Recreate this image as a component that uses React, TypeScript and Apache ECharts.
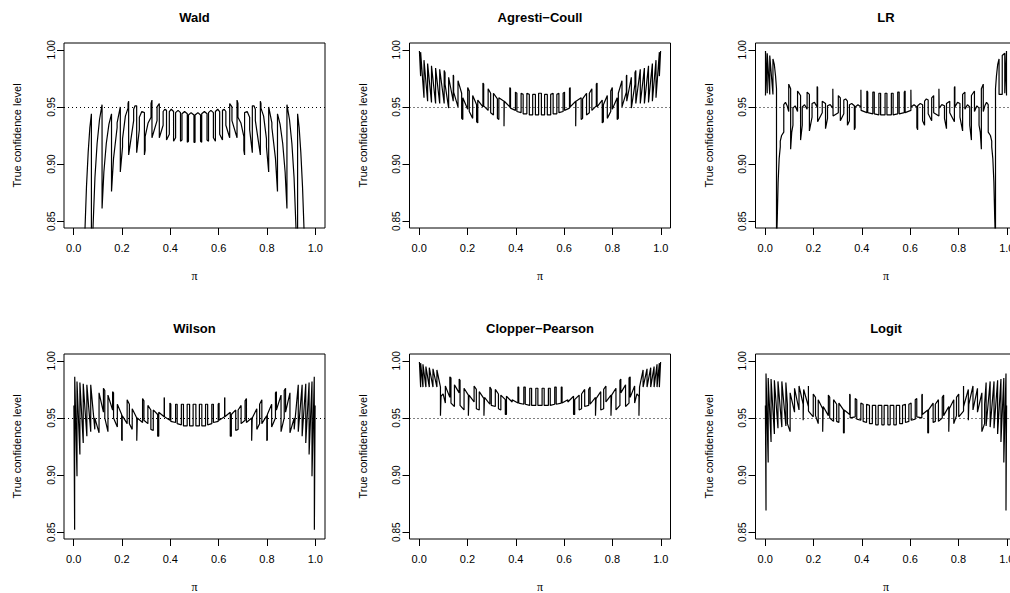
import { useEffect, useRef } from "react";
import * as echarts from "echarts";

// ---------- data ----------
const panelTitles = ["Wald", "Agresti\u2212Coull", "LR", "Wilson", "Clopper\u2212Pearson", "Logit"];
const xTicks = [0, 0.2, 0.4, 0.6, 0.8, 1.0];
const yTicks = [0.85, 0.9, 0.95, 1.0];
const nominalLevel = 0.95;
const xTitle = "\u03c0";
const yTitle = "True confidence level";

const waldCoverage = [
[0.040,0.800],[0.047,0.844],[0.053,0.880],[0.060,0.910],[0.067,0.932],[0.0734,0.944],
[0.0734,0.790],[0.080,0.844],[0.088,0.888],[0.097,0.918],[0.107,0.939],[0.1175,0.952],
[0.1175,0.861],[0.125,0.893],[0.135,0.918],[0.146,0.935],[0.1566,0.944],
[0.1566,0.876],[0.165,0.905],[0.1798,0.932],[0.1798,0.936],[0.193,0.950],
[0.193,0.893],[0.2022,0.915],[0.2022,0.922],[0.214,0.942],[0.225,0.949],[0.225,0.953],[0.2275,0.955],
[0.2275,0.908],[0.2482,0.938],[0.2482,0.948],[0.254,0.951],[0.2607,0.951],
[0.2607,0.910],[0.2718,0.930],[0.2718,0.941],[0.282,0.946],[0.2928,0.945],
[0.2928,0.908],[0.2958,0.912],[0.2958,0.924],[0.308,0.936],[0.3202,0.941],[0.3202,0.953],[0.324,0.956],
[0.324,0.923],[0.345,0.938],[0.345,0.950],[0.3544,0.953],
[0.3544,0.923],[0.3702,0.934],[0.3702,0.946],[0.377,0.948],[0.3842,0.947],
[0.3842,0.921],[0.3958,0.926],[0.3958,0.946],[0.404,0.948],[0.4134,0.946],
[0.4134,0.920],[0.4218,0.923],[0.4218,0.945],[0.432,0.947],[0.442,0.945],
[0.442,0.920],[0.4482,0.921],[0.4482,0.944],[0.459,0.946],[0.4702,0.944],
[0.4702,0.919],[0.475,0.920],[0.475,0.943],[0.486,0.945],[0.4978,0.943],
[0.4978,0.919],
[0.5022,0.919],[0.5022,0.943],[0.514,0.945],[0.525,0.943],[0.525,0.920],[0.5298,0.919],
[0.5298,0.944],[0.541,0.946],[0.5518,0.944],[0.5518,0.921],[0.558,0.920],
[0.558,0.945],[0.568,0.947],[0.5782,0.945],[0.5782,0.923],[0.5866,0.920],
[0.5866,0.946],[0.596,0.948],[0.6042,0.946],[0.6042,0.926],[0.6158,0.921],
[0.6158,0.947],[0.623,0.948],[0.6298,0.946],[0.6298,0.934],[0.6456,0.923],
[0.6456,0.953],[0.655,0.950],[0.655,0.938],[0.676,0.923],
[0.676,0.956],[0.6798,0.953],[0.6798,0.941],[0.692,0.936],[0.7042,0.924],[0.7042,0.912],[0.7072,0.908],
[0.7072,0.945],[0.718,0.946],[0.7282,0.941],[0.7282,0.930],[0.7393,0.910],
[0.7393,0.951],[0.746,0.951],[0.7518,0.948],[0.7518,0.938],[0.7725,0.908],
[0.7725,0.955],[0.775,0.953],[0.775,0.949],[0.786,0.942],[0.7978,0.922],[0.7978,0.915],[0.807,0.893],
[0.807,0.950],[0.8202,0.936],[0.8202,0.932],[0.835,0.905],[0.8434,0.876],
[0.8434,0.944],[0.854,0.935],[0.865,0.918],[0.875,0.893],[0.8825,0.861],
[0.8825,0.952],[0.893,0.939],[0.903,0.918],[0.912,0.888],[0.920,0.844],[0.9266,0.790],
[0.9266,0.944],[0.933,0.932],[0.940,0.910],[0.947,0.880],[0.953,0.844],[0.960,0.800]
];

const agrestiCoullCoverage = [
[0.001,0.999],[0.006,0.977],[0.006,0.998],[0.020,0.958],[0.020,0.991],[0.035,0.955],[0.035,0.988],[0.051,0.954],[0.051,0.986],[0.068,0.953],[0.068,0.984],[0.085,0.953],[0.085,0.983],[0.1035,0.953],[0.1035,0.982],[0.107,0.980],[0.107,0.970],[0.122,0.949],[0.122,0.976],[0.141,0.955],[0.141,0.978],[0.1426,0.977],[0.1426,0.963],[0.1607,0.950],[0.1607,0.973],[0.1758,0.962],[0.1758,0.940],[0.1806,0.939],[0.1806,0.958],[0.2008,0.948],[0.2008,0.967],[0.2073,0.964],[0.2073,0.946],[0.2215,0.940],[0.2215,0.960],[0.2378,0.952],[0.2378,0.937],[0.2425,0.936],[0.2425,0.956],[0.2638,0.950],[0.2638,0.971],[0.267,0.970],[0.267,0.951],[0.2854,0.947],[0.2854,0.966],[0.2958,0.962],[0.2958,0.945],[0.3074,0.943],[0.3074,0.962],[0.3237,0.957],[0.3237,0.940],[0.3297,0.939],[0.3297,0.958],[0.3511,0.955],[0.3511,0.933],[0.3523,0.933],[0.3523,0.955],[0.3751,0.950],[0.3751,0.967],[0.378,0.966],[0.378,0.949],[0.3984,0.947],[0.3984,0.963],[0.4043,0.962],[0.4043,0.946],[0.4218,0.945],[0.4218,0.962],[0.4303,0.961],[0.4303,0.944],[0.4456,0.944],[0.4456,0.962],[0.4558,0.961],[0.4558,0.943],[0.4697,0.943],[0.4697,0.961],[0.481,0.961],[0.481,0.943],[0.4943,0.943],[0.4943,0.962],
[0.5057,0.962],[0.5057,0.943],[0.519,0.943],[0.519,0.961],[0.5303,0.961],[0.5303,0.943],[0.5442,0.943],[0.5442,0.961],[0.5544,0.962],[0.5544,0.944],[0.5697,0.944],[0.5697,0.961],[0.5782,0.962],[0.5782,0.945],[0.5957,0.946],[0.5957,0.962],[0.6016,0.963],[0.6016,0.947],[0.622,0.949],[0.622,0.966],[0.6249,0.967],[0.6249,0.950],[0.6477,0.955],[0.6477,0.933],[0.6489,0.933],[0.6489,0.955],[0.6703,0.958],[0.6703,0.939],[0.6763,0.940],[0.6763,0.957],[0.6926,0.962],[0.6926,0.943],[0.7042,0.945],[0.7042,0.962],[0.7146,0.966],[0.7146,0.947],[0.733,0.951],[0.733,0.970],[0.7362,0.971],[0.7362,0.950],[0.7575,0.956],[0.7575,0.936],[0.7622,0.937],[0.7622,0.952],[0.7785,0.960],[0.7785,0.940],[0.7927,0.946],[0.7927,0.964],[0.7992,0.967],[0.7992,0.948],[0.8194,0.958],[0.8194,0.939],[0.8242,0.940],[0.8242,0.962],[0.8393,0.973],[0.8393,0.950],[0.8574,0.963],[0.8574,0.977],[0.859,0.978],[0.859,0.955],[0.878,0.976],[0.878,0.949],[0.893,0.970],[0.893,0.980],[0.8965,0.982],[0.8965,0.953],[0.915,0.983],[0.915,0.953],[0.932,0.984],[0.932,0.953],[0.949,0.986],[0.949,0.954],[0.965,0.988],[0.965,0.955],[0.980,0.991],[0.980,0.958],[0.994,0.998],[0.994,0.977],[0.999,0.999]
];

const likelihoodRatioCoverage = [
[0.001,0.961],[0.0014,0.960],[0.0014,0.999],[0.0085,0.962],[0.0085,0.997],[0.019,0.961],[0.019,0.995],[0.0322,0.961],[0.0322,0.992],[0.038,0.987],[0.043,0.977],[0.0469,0.966],[0.0469,0.830],[0.050,0.852],[0.0536,0.884],[0.058,0.905],[0.0625,0.915],[0.0625,0.920],[0.068,0.925],[0.077,0.928],[0.077,0.952],[0.084,0.954],[0.091,0.951],[0.0975,0.946],[0.0975,0.970],[0.1054,0.966],[0.1054,0.913],[0.110,0.928],[0.115,0.934],[0.115,0.949],[0.124,0.951],[0.134,0.946],[0.134,0.964],[0.1465,0.960],[0.1465,0.921],[0.1535,0.934],[0.1535,0.950],[0.163,0.952],[0.1735,0.948],[0.1735,0.963],[0.183,0.961],[0.183,0.929],[0.194,0.941],[0.194,0.953],[0.204,0.954],[0.215,0.950],[0.215,0.968],[0.217,0.967],[0.217,0.937],[0.2362,0.945],[0.2362,0.955],[0.2497,0.953],[0.2497,0.931],[0.258,0.940],[0.258,0.951],[0.269,0.952],[0.280,0.949],[0.280,0.966],[0.281,0.966],[0.281,0.942],[0.3027,0.945],[0.3027,0.960],[0.311,0.958],[0.311,0.938],[0.3254,0.944],[0.3254,0.956],[0.333,0.957],[0.3404,0.955],[0.3404,0.934],[0.3487,0.938],[0.3487,0.952],[0.358,0.953],[0.369,0.951],[0.369,0.930],[0.3723,0.932],[0.3723,0.950],[0.384,0.952],[0.3962,0.950],[0.3962,0.965],[0.397,0.965],[0.397,0.947],[0.4208,0.945],[0.4208,0.964],[0.4244,0.963],[0.4244,0.945],[0.4455,0.944],[0.4455,0.963],[0.4515,0.963],[0.4515,0.944],[0.4705,0.943],[0.4705,0.962],[0.4778,0.962],[0.4778,0.943],[0.4961,0.943],[0.4961,0.962],
[0.5039,0.962],[0.5039,0.943],[0.5222,0.943],[0.5222,0.962],[0.5295,0.962],[0.5295,0.943],[0.5485,0.944],[0.5485,0.963],[0.5545,0.963],[0.5545,0.944],[0.5756,0.945],[0.5756,0.963],[0.5792,0.964],[0.5792,0.945],[0.603,0.947],[0.603,0.965],[0.6038,0.965],[0.6038,0.950],[0.616,0.952],[0.6277,0.950],[0.6277,0.932],[0.631,0.930],[0.631,0.951],[0.642,0.953],[0.6513,0.952],[0.6513,0.938],[0.6596,0.934],[0.6596,0.955],[0.667,0.957],[0.6746,0.956],[0.6746,0.944],[0.689,0.938],[0.689,0.958],[0.6973,0.960],[0.6973,0.945],[0.719,0.942],[0.719,0.966],[0.720,0.966],[0.720,0.949],[0.731,0.952],[0.742,0.951],[0.742,0.940],[0.7503,0.931],[0.7503,0.953],[0.7638,0.955],[0.7638,0.945],[0.783,0.937],[0.783,0.967],[0.785,0.968],[0.785,0.950],[0.796,0.954],[0.806,0.953],[0.806,0.941],[0.817,0.929],[0.817,0.961],[0.8265,0.963],[0.8265,0.948],[0.837,0.952],[0.8465,0.950],[0.8465,0.934],[0.8535,0.921],[0.8535,0.960],[0.866,0.964],[0.866,0.946],[0.876,0.951],[0.885,0.949],[0.885,0.934],[0.890,0.928],[0.8946,0.913],[0.8946,0.966],[0.9025,0.970],[0.9025,0.946],[0.909,0.951],[0.916,0.954],[0.923,0.952],[0.923,0.928],[0.932,0.925],[0.9375,0.920],[0.9375,0.915],[0.942,0.905],[0.9464,0.884],[0.950,0.852],[0.9531,0.830],[0.9531,0.966],[0.957,0.977],[0.962,0.987],[0.9678,0.992],[0.9678,0.961],[0.981,0.961],[0.981,0.995],[0.9915,0.997],[0.9915,0.962],[0.9986,0.999],[0.9986,0.960],[0.999,0.961]
];

const wilsonCoverage = [
[0.001,0.961],[0.004,0.852],[0.0044,0.986],[0.0138,0.899],[0.0138,0.982],[0.0258,0.918],[0.0258,0.981],[0.0396,0.928],[0.0396,0.980],[0.0546,0.934],[0.0546,0.979],[0.0706,0.938],[0.0706,0.979],[0.0875,0.940],[0.0875,0.950],[0.105,0.937],[0.105,0.972],[0.1232,0.955],[0.1232,0.976],[0.1288,0.974],[0.1288,0.950],[0.1419,0.938],[0.1419,0.970],[0.1611,0.957],[0.1611,0.973],[0.165,0.972],[0.165,0.950],[0.1807,0.942],[0.1807,0.962],[0.1986,0.953],[0.1986,0.931],[0.2008,0.930],[0.2008,0.952],[0.2213,0.945],[0.2213,0.966],[0.2305,0.962],[0.2305,0.945],[0.2422,0.940],[0.2422,0.958],[0.2611,0.950],[0.2611,0.930],[0.2635,0.930],[0.2635,0.950],[0.2851,0.946],[0.2851,0.967],[0.2907,0.965],[0.2907,0.948],[0.3071,0.945],[0.3071,0.961],[0.3195,0.957],[0.3195,0.940],[0.3294,0.939],[0.3294,0.957],[0.3476,0.953],[0.3476,0.934],[0.352,0.934],[0.352,0.955],[0.3745,0.951],[0.3745,0.968],[0.3755,0.967],[0.3755,0.951],[0.3982,0.948],[0.3982,0.963],[0.402,0.962],[0.402,0.947],[0.4217,0.946],[0.4217,0.962],[0.4284,0.962],[0.4284,0.945],[0.4456,0.944],[0.4456,0.962],[0.4543,0.962],[0.4543,0.943],[0.4697,0.943],[0.4697,0.962],[0.4798,0.962],[0.4798,0.943],[0.4943,0.943],[0.4943,0.962],
[0.5057,0.962],[0.5057,0.943],[0.5202,0.943],[0.5202,0.962],[0.5303,0.962],[0.5303,0.943],[0.5457,0.943],[0.5457,0.962],[0.5544,0.962],[0.5544,0.944],[0.5716,0.945],[0.5716,0.962],[0.5783,0.962],[0.5783,0.946],[0.598,0.947],[0.598,0.962],[0.6018,0.963],[0.6018,0.948],[0.6245,0.951],[0.6245,0.967],[0.6255,0.968],[0.6255,0.951],[0.648,0.955],[0.648,0.934],[0.6524,0.934],[0.6524,0.953],[0.6706,0.957],[0.6706,0.939],[0.6805,0.940],[0.6805,0.957],[0.6929,0.961],[0.6929,0.945],[0.7093,0.948],[0.7093,0.965],[0.7149,0.967],[0.7149,0.946],[0.7365,0.950],[0.7365,0.930],[0.7389,0.930],[0.7389,0.950],[0.7578,0.958],[0.7578,0.940],[0.7695,0.945],[0.7695,0.962],[0.7787,0.966],[0.7787,0.945],[0.7992,0.952],[0.7992,0.930],[0.8014,0.931],[0.8014,0.953],[0.8193,0.962],[0.8193,0.942],[0.835,0.950],[0.835,0.972],[0.8389,0.973],[0.8389,0.957],[0.8581,0.970],[0.8581,0.938],[0.8712,0.950],[0.8712,0.974],[0.8768,0.976],[0.8768,0.955],[0.895,0.972],[0.895,0.937],[0.9125,0.950],[0.9125,0.940],[0.9294,0.979],[0.9294,0.938],[0.9454,0.979],[0.9454,0.934],[0.9604,0.980],[0.9604,0.928],[0.9742,0.981],[0.9742,0.918],[0.9862,0.982],[0.9862,0.899],[0.9956,0.986],[0.996,0.852],[0.999,0.961]
];

const clopperPearsonCoverage = [
[0.001,0.999],[0.0061,0.977],[0.0061,0.998],[0.0157,0.977],[0.0157,0.997],[0.0279,0.977],[0.0279,0.995],[0.0419,0.977],[0.0419,0.994],[0.0571,0.977],[0.0571,0.993],[0.0734,0.977],[0.0734,0.992],[0.0881,0.977],[0.0881,0.952],[0.0905,0.952],[0.0905,0.969],[0.099,0.971],[0.1084,0.963],[0.1084,0.978],[0.1269,0.968],[0.1269,0.986],[0.1316,0.985],[0.1316,0.963],[0.146,0.960],[0.146,0.979],[0.1656,0.972],[0.1656,0.984],[0.1692,0.983],[0.1692,0.961],[0.1857,0.957],[0.1857,0.976],[0.2036,0.970],[0.2036,0.952],[0.2063,0.952],[0.2063,0.970],[0.2273,0.964],[0.2273,0.978],[0.2366,0.975],[0.2366,0.958],[0.2486,0.957],[0.2486,0.973],[0.268,0.967],[0.268,0.952],[0.2704,0.952],[0.2704,0.968],[0.2926,0.962],[0.2926,0.977],[0.2984,0.975],[0.2984,0.961],[0.3151,0.960],[0.3151,0.975],[0.328,0.971],[0.328,0.958],[0.338,0.957],[0.338,0.970],[0.3565,0.966],[0.3565,0.953],[0.3612,0.953],[0.3612,0.969],[0.3848,0.964],[0.3848,0.966],[0.4087,0.963],[0.4087,0.977],[0.412,0.977],[0.412,0.963],[0.433,0.962],[0.433,0.977],[0.439,0.977],[0.439,0.962],[0.4576,0.961],[0.4576,0.976],[0.4653,0.976],[0.4653,0.961],[0.4827,0.961],[0.4827,0.976],[0.4913,0.976],[0.4913,0.961],
[0.5087,0.961],[0.5087,0.976],[0.5173,0.976],[0.5173,0.961],[0.5347,0.961],[0.5347,0.976],[0.5424,0.976],[0.5424,0.961],[0.561,0.962],[0.561,0.977],[0.567,0.977],[0.567,0.962],[0.588,0.963],[0.588,0.977],[0.5913,0.977],[0.5913,0.963],[0.6152,0.966],[0.6152,0.964],[0.6388,0.969],[0.6388,0.953],[0.6435,0.953],[0.6435,0.966],[0.662,0.970],[0.662,0.957],[0.672,0.958],[0.672,0.971],[0.6849,0.975],[0.6849,0.960],[0.7016,0.961],[0.7016,0.975],[0.7074,0.977],[0.7074,0.962],[0.7296,0.968],[0.7296,0.952],[0.732,0.952],[0.732,0.967],[0.7514,0.973],[0.7514,0.957],[0.7634,0.958],[0.7634,0.975],[0.7727,0.978],[0.7727,0.964],[0.7937,0.970],[0.7937,0.952],[0.7964,0.952],[0.7964,0.970],[0.8143,0.976],[0.8143,0.957],[0.8308,0.961],[0.8308,0.983],[0.8344,0.984],[0.8344,0.972],[0.854,0.979],[0.854,0.960],[0.8684,0.963],[0.8684,0.985],[0.8731,0.986],[0.8731,0.968],[0.8916,0.978],[0.8916,0.963],[0.901,0.971],[0.9095,0.969],[0.9095,0.952],[0.9119,0.952],[0.9119,0.977],[0.9266,0.992],[0.9266,0.977],[0.9429,0.993],[0.9429,0.977],[0.9581,0.994],[0.9581,0.977],[0.9721,0.995],[0.9721,0.977],[0.9843,0.997],[0.9843,0.977],[0.9939,0.998],[0.9939,0.977],[0.999,0.999]
];

const logitCoverage = [
[0.001,0.961],[0.0035,0.869],[0.0035,0.989],[0.0125,0.911],[0.0125,0.985],[0.0244,0.929],[0.0244,0.984],[0.0381,0.936],[0.0381,0.983],[0.053,0.941],[0.053,0.982],[0.069,0.942],[0.069,0.982],[0.0857,0.943],[0.0857,0.981],[0.092,0.962],[0.092,0.945],[0.1033,0.938],[0.1033,0.972],[0.1215,0.955],[0.1215,0.976],[0.1401,0.957],[0.1401,0.978],[0.1572,0.962],[0.1572,0.948],[0.1593,0.948],[0.1593,0.975],[0.1789,0.960],[0.1789,0.978],[0.1792,0.978],[0.1792,0.956],[0.199,0.951],[0.199,0.971],[0.2083,0.968],[0.2083,0.952],[0.2195,0.945],[0.2195,0.966],[0.238,0.958],[0.238,0.938],[0.2403,0.938],[0.2403,0.960],[0.2615,0.952],[0.2615,0.970],[0.2672,0.968],[0.2672,0.950],[0.283,0.947],[0.283,0.966],[0.2959,0.962],[0.2959,0.947],[0.305,0.946],[0.305,0.963],[0.324,0.957],[0.324,0.937],[0.3272,0.937],[0.3272,0.957],[0.3498,0.953],[0.3498,0.971],[0.3517,0.970],[0.3517,0.950],[0.3727,0.951],[0.3727,0.967],[0.379,0.966],[0.379,0.949],[0.396,0.948],[0.396,0.963],[0.4054,0.962],[0.4054,0.947],[0.4196,0.946],[0.4196,0.962],[0.4316,0.961],[0.4316,0.945],[0.4435,0.945],[0.4435,0.961],[0.4574,0.961],[0.4574,0.944],[0.4677,0.944],[0.4677,0.961],[0.4827,0.961],[0.4827,0.944],[0.4923,0.944],[0.4923,0.961],
[0.5077,0.961],[0.5077,0.944],[0.5173,0.944],[0.5173,0.961],[0.5323,0.961],[0.5323,0.944],[0.5426,0.944],[0.5426,0.961],[0.5565,0.961],[0.5565,0.945],[0.5684,0.945],[0.5684,0.961],[0.5804,0.962],[0.5804,0.946],[0.5946,0.947],[0.5946,0.962],[0.604,0.963],[0.604,0.948],[0.621,0.949],[0.621,0.966],[0.6273,0.967],[0.6273,0.951],[0.6483,0.950],[0.6483,0.970],[0.6502,0.971],[0.6502,0.953],[0.6728,0.957],[0.6728,0.937],[0.676,0.937],[0.676,0.957],[0.695,0.963],[0.695,0.946],[0.7041,0.947],[0.7041,0.962],[0.717,0.966],[0.717,0.947],[0.7328,0.950],[0.7328,0.968],[0.7385,0.970],[0.7385,0.952],[0.7597,0.960],[0.7597,0.938],[0.762,0.938],[0.762,0.958],[0.7805,0.966],[0.7805,0.945],[0.7917,0.952],[0.7917,0.968],[0.801,0.971],[0.801,0.951],[0.8208,0.956],[0.8208,0.978],[0.8211,0.978],[0.8211,0.960],[0.8407,0.975],[0.8407,0.948],[0.8428,0.948],[0.8428,0.962],[0.8599,0.978],[0.8599,0.957],[0.8785,0.976],[0.8785,0.955],[0.8967,0.972],[0.8967,0.938],[0.908,0.945],[0.908,0.962],[0.9143,0.981],[0.9143,0.943],[0.931,0.982],[0.931,0.942],[0.947,0.982],[0.947,0.941],[0.9619,0.983],[0.9619,0.936],[0.9756,0.984],[0.9756,0.929],[0.9875,0.985],[0.9875,0.911],[0.9965,0.989],[0.9965,0.869],[0.999,0.961]
];

const panelSeries = [
  waldCoverage,
  agrestiCoullCoverage,
  likelihoodRatioCoverage,
  wilsonCoverage,
  clopperPearsonCoverage,
  logitCoverage,
];

// ---------- layout ----------
const FONT = '"Liberation Sans", Arial, Helvetica, sans-serif';
const COL_LEFT = [64, 409.5, 755.5];
const ROW_TOP = [43, 354];
const BOX_W = 261;
const BOX_H = 185;

export default function App() {
  const ref = useRef<HTMLDivElement>(null);

  useEffect(() => {
    if (!ref.current) return;
    const chart = echarts.init(ref.current, null, { renderer: "svg" });

    const grids: any[] = [];
    const xAxes: any[] = [];
    const yAxes: any[] = [];
    const series: any[] = [];
    const graphics: any[] = [];

    panelSeries.forEach((data, i) => {
      const c = i % 3;
      const r = Math.floor(i / 3);
      const left = COL_LEFT[c];
      const top = ROW_TOP[r];

      grids.push({
        left,
        top,
        width: BOX_W,
        height: BOX_H,
        show: true,
        borderColor: "#000",
        borderWidth: 1,
        backgroundColor: "transparent",
        containLabel: false,
        outerBoundsMode: "none",
      });

      xAxes.push({
        type: "value",
        gridIndex: i,
        position: "bottom",
        min: -0.04,
        max: 1.04,
        splitLine: { show: false },
        axisLine: { show: false, onZero: false },
        axisTick: {
          show: true,
          inside: false,
          length: 7,
          lineStyle: { color: "#000", width: 1 },
          customValues: xTicks,
        },
        axisLabel: {
          show: true,
          customValues: xTicks,
          formatter: (v: number) => v.toFixed(1),
          color: "#000",
          fontSize: 11,
          fontFamily: FONT,
          margin: 14,
        },
      });

      yAxes.push({
        type: "value",
        gridIndex: i,
        position: "left",
        min: 0.844,
        max: 1.006,
        splitLine: { show: false },
        axisLine: { show: false, onZero: false },
        axisTick: {
          show: true,
          inside: false,
          length: 7,
          lineStyle: { color: "#000", width: 1 },
          customValues: yTicks,
        },
        axisLabel: {
          show: true,
          customValues: yTicks,
          rotate: 90,
          formatter: (v: number) => v.toFixed(2),
          color: "#000",
          fontSize: 10,
          fontFamily: FONT,
          margin: 8,
        },
      });

      series.push({
        type: "line",
        xAxisIndex: i,
        yAxisIndex: i,
        data,
        showSymbol: false,
        symbol: "none",
        clip: true,
        silent: true,
        lineStyle: { color: "#000", width: 1.2 },
        markLine: {
          silent: true,
          symbol: "none",
          label: { show: false },
          lineStyle: { color: "#000", width: 1, type: [1, 3] },
          data: [{ yAxis: nominalLevel }],
        },
      });

      const cx = left + BOX_W / 2;
      graphics.push({
        type: "text",
        x: cx,
        y: top - 26,
        style: {
          text: panelTitles[i],
          fill: "#000",
          font: `bold 13px ${FONT}`,
          align: "center",
          verticalAlign: "middle",
        },
      });
      graphics.push({
        type: "text",
        x: cx,
        y: top + BOX_H + 48,
        style: {
          text: xTitle,
          fill: "#000",
          font: `12px "Liberation Serif", "DejaVu Serif", serif`,
          align: "center",
          verticalAlign: "middle",
        },
      });
      graphics.push({
        type: "text",
        x: left - 47,
        y: top + BOX_H / 2,
        rotation: Math.PI / 2,
        style: {
          text: yTitle,
          fill: "#000",
          font: `11px ${FONT}`,
          align: "center",
          verticalAlign: "middle",
        },
      });
    });

    chart.setOption({
      animation: false,
      backgroundColor: "#fff",
      grid: grids,
      xAxis: xAxes,
      yAxis: yAxes,
      series,
      graphic: graphics,
    });

    return () => chart.dispose();
  }, []);

  return (
    <div
      ref={ref}
      style={{ position: "absolute", left: 0, top: 0, width: 1010, height: 593, background: "#fff" }}
    />
  );
}
